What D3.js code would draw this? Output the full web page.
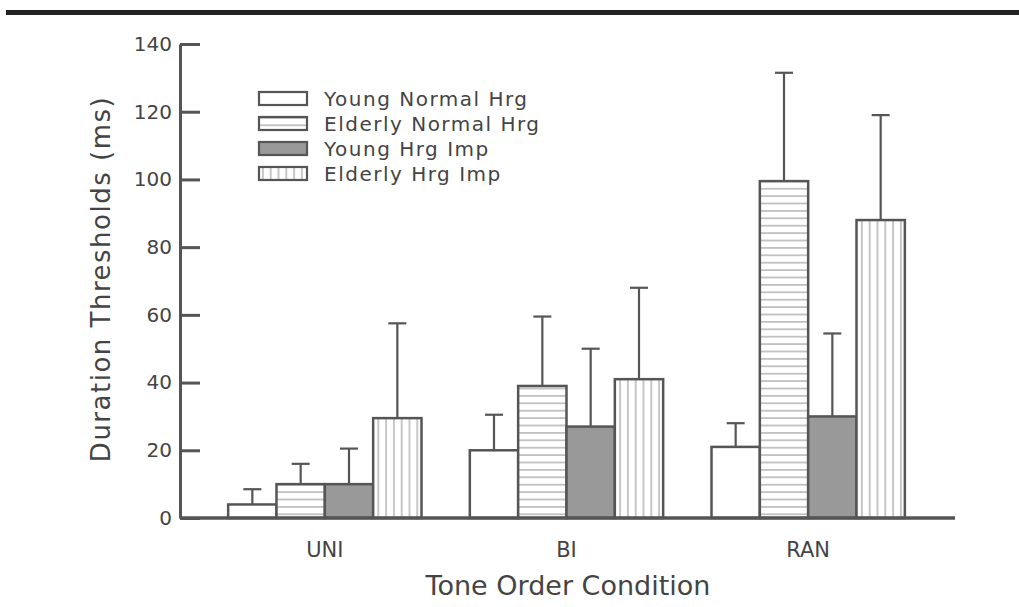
<!DOCTYPE html>
<html>
<head>
<meta charset="utf-8">
<script src="https://cdn.jsdelivr.net/npm/d3@7"></script>
<style>
  body { margin: 0; background: #fff; }
  text { font-family: "DejaVu Sans", sans-serif; fill: #444; }
</style>
</head>
<body>
<svg width="1019" height="607"></svg>
<script>
// data
var conditions = ["UNI", "BI", "RAN"]
var groups = ["Young Normal Hrg", "Elderly Normal Hrg", "Young Hrg Imp", "Elderly Hrg Imp"]
var youngNormal = [4, 20, 21]
var elderlyNormal = [10, 39, 99.5]
var youngImp = [10, 27, 30]
var elderlyImp = [29.5, 41, 88]
// top of the error bar (mean + sd)
var youngNormalErr = [8.5, 30.5, 28]
var elderlyNormalErr = [16, 59.5, 131.5]
var youngImpErr = [20.5, 50, 54.5]
var elderlyImpErr = [57.5, 68, 119]
var yTicks = [0, 20, 40, 60, 80, 100, 120, 140]

var values = [youngNormal, elderlyNormal, youngImp, elderlyImp]
var errs = [youngNormalErr, elderlyNormalErr, youngImpErr, elderlyImpErr]
var fills = ["#fff", "url(#hstripe)", "#999", "url(#vstripe)"]

var svg = d3.select("svg")
var ink = "#555"

// heavy rule at the top of the page
svg.append("rect").attr("x", 6).attr("y", 10).attr("width", 1013).attr("height", 5).attr("fill", "#222")

var defs = svg.append("defs")
var hp = defs.append("pattern").attr("id", "hstripe").attr("patternUnits", "userSpaceOnUse")
    .attr("width", 10).attr("height", 7.4)
hp.append("rect").attr("width", 10).attr("height", 7.4).attr("fill", "#fff")
hp.append("line").attr("x1", 0).attr("x2", 10).attr("y1", 3.7).attr("y2", 3.7)
    .attr("stroke", "#999").attr("stroke-width", 1.1)
var vp = defs.append("pattern").attr("id", "vstripe").attr("patternUnits", "userSpaceOnUse")
    .attr("width", 7.8).attr("height", 10)
vp.append("rect").attr("width", 7.8).attr("height", 10).attr("fill", "#fff")
vp.append("line").attr("y1", 0).attr("y2", 10).attr("x1", 3.9).attr("x2", 3.9)
    .attr("stroke", "#999").attr("stroke-width", 1.1)

var y = d3.scaleLinear().domain([0, 140]).range([518, 44])
var x = d3.scaleBand().domain(conditions).range([204, 929]).paddingInner(0.2).paddingOuter(0.1)
var xs = d3.scaleBand().domain(groups).range([0, x.bandwidth()])

var g = svg.append("g")

// error bars first so the bars cover the lower part
groups.forEach(function(name, i) {
    conditions.forEach(function(c, j) {
        var cx = x(c) + xs(name) + xs.bandwidth() / 2
        g.append("line").attr("x1", cx).attr("x2", cx)
            .attr("y1", y(values[i][j])).attr("y2", y(errs[i][j]))
            .attr("stroke", ink).attr("stroke-width", 2.2)
        g.append("line").attr("x1", cx - 9).attr("x2", cx + 9)
            .attr("y1", y(errs[i][j])).attr("y2", y(errs[i][j]))
            .attr("stroke", ink).attr("stroke-width", 2.2)
    })
})

groups.forEach(function(name, i) {
    conditions.forEach(function(c, j) {
        g.append("rect")
            .attr("x", x(c) + xs(name))
            .attr("y", y(values[i][j]))
            .attr("width", xs.bandwidth())
            .attr("height", y(0) - y(values[i][j]))
            .attr("fill", fills[i])
            .attr("stroke", ink).attr("stroke-width", 2.5)
    })
})

// y axis, ticks pointing inward
var yAxis = svg.append("g").attr("transform", "translate(180,0)")
    .call(d3.axisRight(y).tickValues(yTicks).tickSize(20).tickSizeOuter(0))
yAxis.select(".domain").attr("stroke", ink).attr("stroke-width", 3)
yAxis.selectAll(".tick line").attr("stroke", ink).attr("stroke-width", 3)
yAxis.selectAll(".tick text").attr("text-anchor", "end").attr("x", -8)
    .style("font-family", "DejaVu Sans").style("font-size", "20px").attr("fill", "#444")

// x axis line
svg.append("line").attr("x1", 180).attr("x2", 955).attr("y1", y(0)).attr("y2", y(0))
    .attr("stroke", ink).attr("stroke-width", 3.5)

svg.selectAll(".cat").data(conditions).enter().append("text")
    .attr("class", "cat")
    .attr("x", function(d) { return x(d) + x.bandwidth() / 2 })
    .attr("y", 557)
    .attr("text-anchor", "middle")
    .style("font-size", "21px")
    .text(function(d) { return d })

svg.append("text").attr("x", 568).attr("y", 595).attr("text-anchor", "middle")
    .style("font-size", "27px")
    .text("Tone Order Condition")

svg.append("text").attr("transform", "translate(110,279) rotate(-90)")
    .attr("text-anchor", "middle")
    .style("font-size", "26px").style("letter-spacing", "1.5px")
    .text("Duration Thresholds (ms)")

// legend
var leg = svg.append("g").attr("transform", "translate(259,92)")
groups.forEach(function(name, i) {
    leg.append("rect").attr("x", 0).attr("y", i * 25).attr("width", 48).attr("height", 13)
        .attr("fill", fills[i]).attr("stroke", ink).attr("stroke-width", 2.2)
    leg.append("text").attr("x", 65).attr("y", i * 25 + 14)
        .style("font-size", "20px").style("letter-spacing", "1.5px")
        .text(name)
})
</script>
</body>
</html>
